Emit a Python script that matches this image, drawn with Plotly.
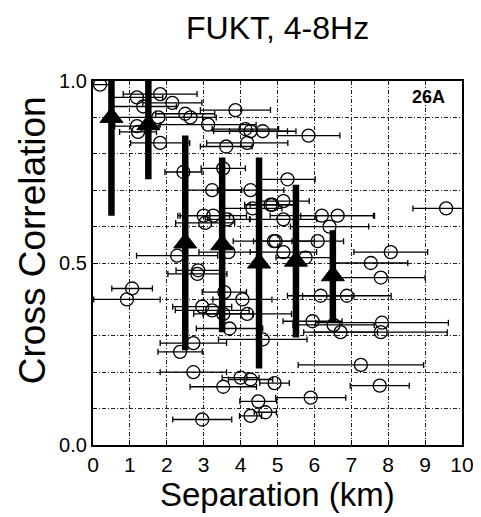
import plotly.graph_objects as go

# Individual pairs: separation (km), cross correlation, separation uncertainty (km)
circ_x = [0.19, 1.19, 1.82, 2.15, 1.36, 3.86, 2.5, 2.64, 1.77, 1.19, 1.22, 3.12, 4.13, 4.27, 4.6,
          4.18, 1.82, 3.61, 2.45, 3.53, 3.23, 4.27, 4.32, 4.81, 3.0, 3.26, 3.04, 3.64, 4.9, 2.28,
          3.67, 2.85, 5.84, 5.27, 5.16, 4.86, 5.16, 6.2, 6.63, 6.41, 9.57, 6.09, 4.95, 5.16, 8.07,
          7.53, 5.76, 7.8, 6.17, 6.88, 5.95, 6.52, 6.71, 7.83, 7.8, 7.26, 7.77, 5.9, 4.92, 1.06,
          0.92, 2.83, 3.56, 4.05, 2.96, 3.23, 3.53, 4.18, 3.7, 4.6, 2.72, 2.36, 2.72, 3.53, 4.0,
          4.27, 4.48, 4.27, 4.67, 2.96]
circ_y = [0.99, 0.955, 0.964, 0.94, 0.93, 0.92, 0.91, 0.90, 0.90, 0.876, 0.86, 0.88, 0.868, 0.862, 0.862,
          0.83, 0.83, 0.82, 0.75, 0.76, 0.70, 0.70, 0.65, 0.66, 0.63, 0.63, 0.61, 0.62, 0.56, 0.52,
          0.53, 0.48, 0.85, 0.73, 0.67, 0.66, 0.62, 0.63, 0.63, 0.60, 0.65, 0.56, 0.56, 0.53, 0.53,
          0.50, 0.515, 0.46, 0.41, 0.41, 0.34, 0.33, 0.31, 0.336, 0.31, 0.22, 0.163, 0.13, 0.17, 0.43,
          0.40, 0.47, 0.42, 0.40, 0.38, 0.37, 0.36, 0.36, 0.32, 0.29, 0.28, 0.256, 0.20, 0.16, 0.185,
          0.18, 0.12, 0.08, 0.09, 0.07]
circ_xerr = [0.3, 0.7, 1.0, 0.8, 0.9, 0.95, 0.8, 0.7, 1.2, 0.6, 0.5, 1.3, 0.9, 1.0, 0.9,
             1.1, 0.8, 0.7, 0.5, 0.6, 0.8, 0.9, 0.8, 0.7, 0.7, 0.9, 0.8, 0.6, 1.1, 1.1,
             0.8, 0.6, 0.85, 0.75, 0.7, 0.6, 0.9, 1.4, 1.0, 1.06, 0.9, 0.7, 0.6, 0.9, 1.0,
             1.0, 0.8, 1.2, 0.9, 1.2, 0.8, 1.1, 1.0, 1.8, 1.8, 1.7, 0.8, 0.95, 0.4, 0.55,
             0.9, 0.8, 0.6, 0.8, 0.8, 1.0, 0.8, 1.2, 0.9, 1.2, 0.9, 0.6, 0.9, 0.9, 0.5,
             0.6, 0.5, 0.3, 0.3, 0.8]

# Binned means and standard deviations
mean_x = [0.5, 1.5, 2.5, 3.5, 4.5, 5.5, 6.5]
mean_y = [0.90, 0.88, 0.555, 0.55, 0.50, 0.505, 0.465]
mean_std = [0.27, 0.15, 0.295, 0.24, 0.29, 0.21, 0.125]

x_ticks = [0, 1, 2, 3, 4, 5, 6, 7, 8, 9, 10]
y_ticks = [0.0, 0.5, 1.0]
y_ticktext = ["0.0", "0.5", "1.0"]

font = "Liberation Sans, Arial, Helvetica"
grid_dash = "4px,2px,1px,2px"

fig = go.Figure()
fig.add_trace(go.Scatter(
    x=circ_x, y=circ_y, mode="markers",
    marker=dict(symbol="circle-open", size=13, color="black", line=dict(width=1.3, color="black")),
    error_x=dict(type="data", array=circ_xerr, visible=True, color="black", thickness=1.3, width=3),
    showlegend=False,
))
fig.add_trace(go.Scatter(
    x=mean_x, y=mean_y, mode="markers",
    marker=dict(symbol="triangle-up", size=20, color="black", line=dict(width=1, color="black")),
    error_y=dict(type="data", array=mean_std, visible=True, color="black", thickness=6.5, width=0),
    showlegend=False,
))

fig.add_annotation(x=9.08, y=0.957, text="<b>26A</b>", showarrow=False,
                   font=dict(family=font, size=18, color="black"))
fig.add_annotation(xref="paper", yref="paper", x=0.5, y=1.146, text="FUKT, 4-8Hz",
                   showarrow=False, xanchor="center", yanchor="middle",
                   font=dict(family=font, size=32, color="black"))
fig.add_annotation(xref="paper", yref="paper", x=0.5, y=-0.137, text="Separation (km)",
                   showarrow=False, xanchor="center", yanchor="middle",
                   font=dict(family=font, size=33, color="black"))
fig.add_annotation(xref="paper", yref="paper", x=-0.165, y=0.563, text="Cross Correlation",
                   showarrow=False, xanchor="center", yanchor="middle", textangle=-90,
                   font=dict(family=font, size=37, color="black"))

# The page body adds an 8px offset, so the figure is sized to fit the 481x517 window
fig.update_layout(
    width=473, height=509,
    margin=dict(l=85, r=19, t=73, b=72, autoexpand=False),
    paper_bgcolor="white", plot_bgcolor="white",
    font=dict(family=font, color="black"),
    xaxis=dict(range=[0, 10], tickvals=x_ticks, showgrid=True, gridcolor="#222", griddash=grid_dash,
               gridwidth=1, showline=True, linecolor="black", linewidth=2.2, mirror=True,
               ticks="inside", ticklen=5, tickcolor="black", zeroline=False, automargin=False,
               tickfont=dict(size=21, family=font, color="black")),
    yaxis=dict(range=[0, 1], tickvals=y_ticks, ticktext=y_ticktext, showgrid=True, gridcolor="#222",
               griddash=grid_dash, gridwidth=1, showline=True, linecolor="black", linewidth=2.2, mirror=True,
               ticks="inside", ticklen=5, tickcolor="black", zeroline=False, automargin=False,
               minor=dict(dtick=0.1, showgrid=True, gridcolor="#222", griddash=grid_dash, gridwidth=1,
                          ticks="inside", ticklen=3, tickcolor="black"),
               tickfont=dict(size=20, family=font, color="black")),
)
fig.write_html("out.html")
